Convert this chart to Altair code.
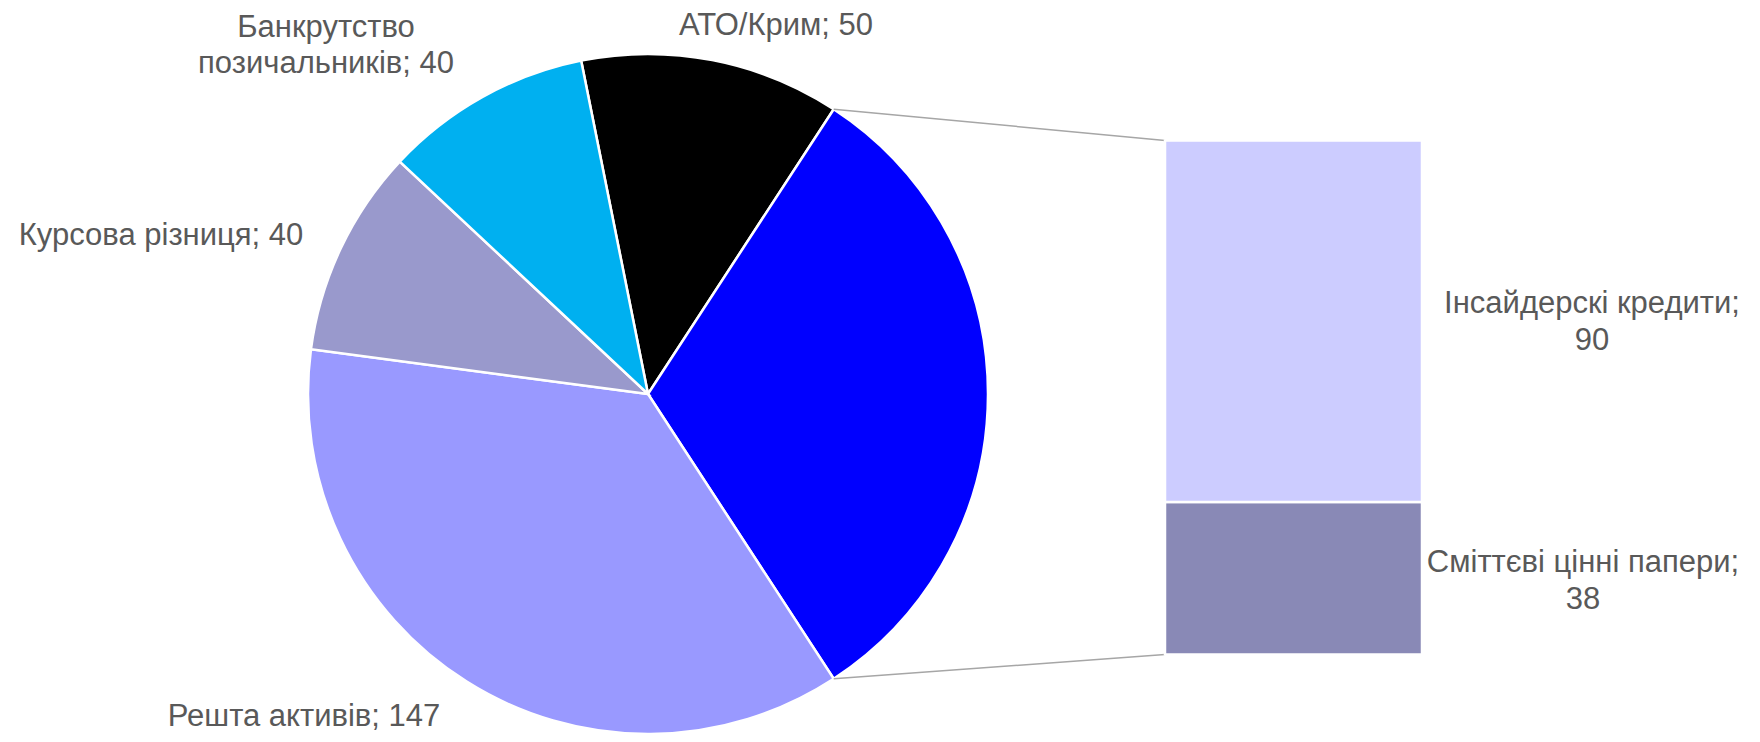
import math
import altair as alt
import pandas as pd

# ---- data ----
pie_names = ["АТО/Крим", "Інше", "Решта активів", "Курсова різниця", "Банкрутство позичальників"]
bar_names = ["Сміттєві цінні папери", "Інсайдерскі кредити"]
bar_values = [38, 90]
ato_value = 50
rest_value = 147
fx_value = 40
bankrupt_value = 40
other_total = sum(bar_values)
pie_values = [ato_value, other_total, rest_value, fx_value, bankrupt_value]

# ---- layout / style ----
W, H = 1744, 726
CX, CY, R = 640, 386, 340
BAR_X0, BAR_X1, BAR_TOP, BAR_BOT = 1157, 1414, 132.5, 646.5
FONT = "Liberation Sans"
FS = 31
TXT = "#595959"

colors = {
    "АТО/Крим": "#000000",
    "Інше": "#0000FF",
    "Решта активів": "#9999FF",
    "Курсова різниця": "#9999CC",
    "Банкрутство позичальників": "#00B0F0",
    "Сміттєві цінні папери": "#8989B6",
    "Інсайдерскі кредити": "#CCCCFF",
}
color_scale = alt.Scale(domain=list(colors.keys()), range=list(colors.values()))

total = sum(pie_values)
other_span = 2 * math.pi * other_total / total
first_span = 2 * math.pi * pie_values[0] / total
# the "other" slice is centred on the right (east) side, as in a bar-of-pie chart
start = math.pi / 2 - other_span / 2 - first_span

pie_df = pd.DataFrame({"name": pie_names, "value": pie_values, "idx": list(range(len(pie_names)))})

bar_df = pd.DataFrame({"name": bar_names, "value": bar_values})
bar_df["y1"] = bar_df["value"].cumsum()
bar_df["y0"] = bar_df["y1"] - bar_df["value"]

pie = alt.Chart(pie_df).mark_arc(radius=R, stroke="white", strokeWidth=2.5).encode(
    theta=alt.Theta("value:Q", stack=True, scale=alt.Scale(range=[start, start + 2 * math.pi])),
    order=alt.Order("idx:Q"),
    color=alt.Color("name:N", scale=color_scale, legend=None),
    x=alt.value(CX),
    y=alt.value(CY),
)

bar = alt.Chart(bar_df).mark_rect(stroke="white", strokeWidth=2.5).encode(
    x=alt.value(BAR_X0),
    x2=alt.value(BAR_X1),
    y=alt.Y("y0:Q", axis=None,
            scale=alt.Scale(domain=[0, other_total], range=[BAR_BOT, BAR_TOP])),
    y2="y1:Q",
    color=alt.Color("name:N", scale=color_scale, legend=None),
)

a1 = start + first_span
a2 = a1 + other_span
conn_df = pd.DataFrame({
    "x": [CX + R * math.sin(a1), CX + R * math.sin(a2)],
    "y": [CY - R * math.cos(a1), CY - R * math.cos(a2)],
    "x2": [BAR_X0, BAR_X0],
    "y2": [BAR_TOP, BAR_BOT],
})
conn = alt.Chart(conn_df).mark_rule(color="#A6A6A6", strokeWidth=1.5).encode(
    x=alt.X("x:Q", scale=None), y=alt.Y("y:Q", scale=None),
    x2="x2:Q", y2="y2:Q",
)

def label(text, x, y, lh=36):
    return alt.Chart(pd.DataFrame({"t": [text]})).mark_text(
        font=FONT, fontSize=FS, color=TXT, align="center", baseline="middle",
        lineBreak="\n", lineHeight=lh,
    ).encode(text="t:N", x=alt.value(x), y=alt.value(y))

labels = [
    label(f"{pie_names[0]}; {ato_value}", 768, 18),
    label("Банкрутство\nпозичальників; " + str(bankrupt_value), 318, 20),
    label(f"{pie_names[3]}; {fx_value}", 153, 228),
    label(f"{pie_names[2]}; {rest_value}", 296, 709),
    label(f"{bar_names[1]};\n{bar_values[1]}", 1584, 296, 37),
    label(f"{bar_names[0]};\n{bar_values[0]}", 1575, 555, 37),
]

chart = alt.layer(pie, conn, bar, *labels).properties(
    width=W, height=H, padding=0, autosize=alt.AutoSizeParams(type="none")
).configure_view(stroke=None).resolve_scale(y="independent")

chart.save("out.html", embed_options={"renderer": "svg", "actions": False})
